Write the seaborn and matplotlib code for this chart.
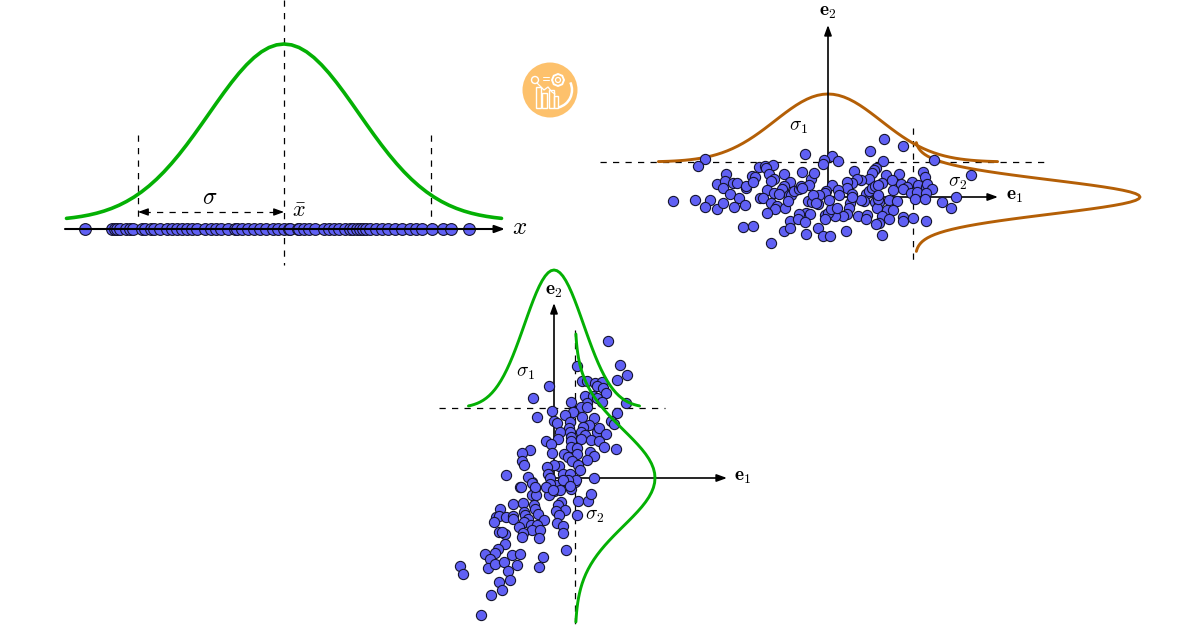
import numpy as np
import pandas as pd
import matplotlib
matplotlib.use("Agg")
import matplotlib.pyplot as plt
from matplotlib.patches import Circle, Rectangle, Arc, RegularPolygon
import seaborn as sns

# --- data -------------------------------------------------------------
bell_z = [0.0, 0.1, 0.2, 0.3, 0.4, 0.5, 0.6, 0.7, 0.8, 0.9, 1.0, 1.1, 1.2, 1.3, 1.4, 1.5, 1.6,
          1.7, 1.8, 1.9, 2.0, 2.1, 2.2, 2.3, 2.4, 2.5, 2.6, 2.7, 2.8, 2.9, 3.0, 3.1, 3.2]
bell_f = [1.0, .9950, .9802, .9560, .9231, .8825, .8353, .7827, .7261, .6670, .6065, .5461, .4868,
          .4296, .3753, .3247, .2780, .2357, .1979, .1645, .1353, .1103, .0889, .0710, .0561, .0439,
          .0340, .0261, .0198, .0149, .0111, .0082, .0060]

line_x = [-199,-172,-169,-167,-164,-158,-154,-151,-142,-139,-133,-130,-124,-117,-112,-107,-102,-97,-92,
          -87,-79,-73,-68,-63,-56,-49,-47,-42,-36,-30,-24,-18,-11,-6,0,5,6,14,15,20,25,31,40,45,50,55,
          61,66,69,73,76,79,82,86,92,98,104,111,118,126,132,138,148,159,167,185]

flat_e1 = [-123,-130,-23,-69,-63,-55,-62,-44,-26,-59,-102,-111,-103,-105,-95,-91,-82,-82,-76,-73,-75,-54,
           -57,-17,-38,-44,-46,-61,-54,-49,-39,-37,-34,-29,-27,-19,-26,-98,-155,-133,-118,-123,-111,-105,
           -89,-83,-94,-68,-65,-57,-51,-53,-61,-43,-40,-20,-16,-85,-75,-38,-22,-29,-18,-30,-23,-44,-38,-22,-57,
           56,75,42,4,-4,-5,10,55,106,143,26,-14,48,46,44,58,71,95,97,64,41,33,29,24,19,4,19,10,-2,-3,-9,-15,
           11,24,38,41,44,47,54,50,73,84,90,79,75,83,89,98,99,104,98,65,87,97,128,114,123,36,33,22,21,19,15,7,
           -3,0,3,9,-10,-12,1,47,51,61,69,49,59,65,30,39,38,54,61,51,48,75,75,85,98,18,-10,-5,2,54,50,50,24,-3]
flat_e2 = [38,31,43,30,31,32,29,23,25,23,23,13,16,9,14,14,9,11,21,20,15,18,
           16,18,15,11,8,7,4,3,2,2,6,8,11,12,9,3,-4,-3,-3,-10,-12,-6,
           -1,-8,-10,-1,-1,-6,-9,-12,-16,-11,-4,-4,-5,-30,-29,-24,-16,-17,-17,-22,-25,-34,-31,-37,-46,
           58,51,46,41,37,33,36,36,37,22,26,24,29,27,24,22,23,25,20,17,18,17,18,14,15,12,9,7,6,4,2,2,
           2,3,3,6,9,11,14,12,13,15,12,10,8,4,5,10,13,8,4,7,-2,-2,0,-5,-11,-4,-3,-6,-11,-17,-19,-19,
           -18,-16,-12,-11,-7,-6,-3,-5,-5,-3,-4,-11,-13,-13,-19,-18,-22,-19,-22,-26,-27,-20,-24,-21,-24,-34,-31,-39,-39,-38,-2,2,0,-22]

tilt_e1 = [-34,-19,-22,-7,-2,2,0,6,-5,17,21,13,-22,-18,24,34,37,7,4,11,2,5,23,-41,-31,-20,-19,-54,-30,-16,
           -58,-55,-48,-41,-41,-29,-26,-10,-60,-30,-35,-23,-17,3,9,9,-22,-14,-31,-32,-15,-55,-49,-52,-49,
           -56,-59,-69,-64,-66,-59,-50,-42,-34,-37,-46,-11,-15,12,-94,-91,-55,-44,-52,-63,-73,
           54,66,73,63,23,-5,-21,28,33,41,48,43,49,52,31,39,43,48,33,17,27,33,72,-2,19,11,-17,63,28,40,0,3,16,
           57,60,35,29,15,6,16,43,45,52,27,31,17,17,4,-8,-3,27,37,45,17,23,50,62,-24,-32,-2,10,23,36,40,33,
           -32,-30,14,18,24,5,0,-7,26,-48,-26,-6,9,16,40,22,-4,14,-22,-33,-19,-4,9,-8,-1,16]
tilt_e2 = [-9,-10,-4,-9,-6,-7,-13,-12,-17,-11,-4,-4,-17,-17,-23,-23,-16,-24,-27,-32,-33,-37,-37,-26,-25,-27,-31,-31,-34,-36,
           -39,-38,-39,-38,-41,-37,-41,-42,-44,-44,-49,-47,-47,-45,-48,-55,-52,-52,-55,-59,-60,-54,-56,-54,-66,
           -71,-75,-76,-81,-90,-86,-84,-77,-76,-87,-93,-79,-89,-72,-88,-96,-104,-102,-112,-117,-137,
           137,113,103,98,112,92,80,97,97,95,96,92,90,85,82,82,80,76,75,76,71,71,75,67,66,63,61,65,61,60,57,55,56,
           57,54,53,51,50,46,46,46,50,44,46,43,41,37,39,37,34,39,38,37,31,30,31,29,28,25,25,24,24,26,22,18,
           17,13,21,17,13,12,13,11,8,3,1,4,4,4,0,-2,0,-2,-5,-9,-9,-6,-2,-9,-12,-8]

# --- style ------------------------------------------------------------
sns.set_theme(style="white")
plt.rcParams["mathtext.fontset"] = "cm"
plt.rcParams["font.family"] = ["DejaVu Serif"]

GREEN = "#04b004"
BROWN = "#b45f06"
FACE = "#6060f4"
EDGE = "#14142e"
INK = "#000000"
W, H = 1200, 630

fig = plt.figure(figsize=(12, 6.3), dpi=100, facecolor="white")


def panel(x0, y0):
    ax = fig.add_axes([0, 0, 1, 1])
    ax.set_xlim(-x0, W - x0)
    ax.set_ylim(y0 - H, y0)
    ax.axis("off")
    ax.patch.set_alpha(0)
    return ax


def bell(ax, centre, base, height, sigma, zmax, color, lw, vertical=False, z=3):
    zs = np.array(bell_z)
    fs = np.array(bell_f)
    keep = zs <= zmax
    zz = np.r_[-zs[keep][::-1], zs[keep][1:]]
    ff = np.r_[fs[keep][::-1], fs[keep][1:]]
    along = centre + sigma * zz
    across = base + height * ff
    frame = pd.DataFrame({"x": across, "y": along} if vertical else {"x": along, "y": across})
    sns.lineplot(data=frame, x="x", y="y", sort=False, estimator=None, color=color, lw=lw, ax=ax, zorder=z)
    ax.set_xlabel("")
    ax.set_ylabel("")


def dots(ax, xs, ys, size, z=4):
    sns.scatterplot(x=xs, y=ys, s=size, color=FACE, edgecolor=EDGE, linewidth=0.8, ax=ax, zorder=z, legend=False)
    ax.set_xlabel("")
    ax.set_ylabel("")


def dash(ax, xs, ys, lw=0.9):
    ax.plot(xs, ys, color=INK, lw=lw, dashes=(5, 5), zorder=2)


def arrow(ax, start, end, lw=1.2, z=3):
    ax.annotate("", xy=end, xytext=start, zorder=z,
                arrowprops=dict(arrowstyle="-|>,head_length=0.55,head_width=0.2", color=INK, lw=lw,
                                shrinkA=0, shrinkB=0, mutation_scale=11))


# --- panel 1: one-dimensional sample ----------------------------------
ax = panel(284, 229)
dash(ax, [0, 0], [229, -36])
dash(ax, [-146, -146], [94, 12])
dash(ax, [147, 147], [94, 3])
bell(ax, 0, 8, 177, 75, 2.9, GREEN, 2.6)
dash(ax, [-140, -6], [17, 17])
arrow(ax, (-136, 17), (-146, 17), lw=0.9)
arrow(ax, (-10, 17), (0, 17), lw=0.9)
dots(ax, line_x, [0] * len(line_x), 72, z=3)
arrow(ax, (-219, 0), (221, 0), lw=1.5, z=5)
ax.text(-74, 31, r"$\sigma$", fontsize=17, ha="center", va="center", color=INK)
ax.text(15, 18, r"$\bar{x}$", fontsize=16, ha="center", va="center", color=INK)
ax.text(236, 1, r"$x$", fontsize=18, ha="center", va="center", color=INK)

# --- panel 2: flat cloud ----------------------------------------------
ax = panel(828, 197)
dash(ax, [-228, 222], [35, 35])
dash(ax, [85, 85], [69, -68])
bell(ax, 0, 35, 68, 53, 3.2, BROWN, 2.1)
bell(ax, 0, 87, 225, 17, 3.2, BROWN, 2.1, vertical=True)
arrow(ax, (0, 0), (170, 0))
arrow(ax, (0, 0), (0, 172))
dots(ax, flat_e1, flat_e2, 54)
ax.text(-30, 70, r"$\sigma_1$", fontsize=14, ha="center", va="center", color=INK)
ax.text(130, 14, r"$\sigma_2$", fontsize=14, ha="center", va="center", color=INK)
ax.text(187, 1, r"$\mathbf{e}_1$", fontsize=14, ha="center", va="center", color=INK)
ax.text(0, 185, r"$\mathbf{e}_2$", fontsize=14, ha="center", va="center", color=INK)

# --- panel 3: tilted cloud --------------------------------------------
ax = panel(554, 478)
dash(ax, [-115, 111], [70, 70])
dash(ax, [21, 21], [148, -147])
arrow(ax, (0, 0), (173, 0))
arrow(ax, (0, 0), (0, 175))
dots(ax, tilt_e1, tilt_e2, 54, z=3)
bell(ax, 0, 70, 138, 29.5, 2.9, GREEN, 2.1, z=5)
bell(ax, 0, 21, 80, 48, 3.0, GREEN, 2.1, vertical=True, z=5)
ax.text(-29, 105, r"$\sigma_1$", fontsize=14, ha="center", va="center", color=INK)
ax.text(41, -38, r"$\sigma_2$", fontsize=14, ha="center", va="center", color=INK)
ax.text(189, 1, r"$\mathbf{e}_1$", fontsize=14, ha="center", va="center", color=INK)
ax.text(0, 187, r"$\mathbf{e}_2$", fontsize=14, ha="center", va="center", color=INK)

# --- badge ------------------------------------------------------------
ax = panel(550, 90)
ax.add_patch(Circle((0, 0), 27.5, fc="#fdc16c", ec="none"))
for bx, bw, bh in [(-14.5, 5, 21), (-8, 5, 15), (-1.5, 5, 18), (4, 4, 12)]:
    ax.add_patch(Rectangle((bx, -18), bw, bh, fc="none", ec="white", lw=1.0))
ax.add_patch(Circle((-15, 10), 3.5, fc="none", ec="white", lw=1.0))
ax.add_patch(RegularPolygon((8, 10), 8, radius=6, fc="none", ec="white", lw=1.4))
ax.add_patch(Circle((8, 10), 2.5, fc="none", ec="white", lw=0.9))
ax.plot([-13, -6, -2, 2, 5], [7, 0, 3, -2, -4], color="white", lw=0.9)
ax.plot([-7, -1], [13, 13], color="white", lw=0.7)
ax.plot([-7, -1], [10, 10], color="white", lw=0.7)
ax.add_patch(Arc((4, 0), 36, 36, theta1=-75, theta2=25, ec="white", lw=1.8))

fig.savefig("out.png", dpi=100, facecolor="white")
